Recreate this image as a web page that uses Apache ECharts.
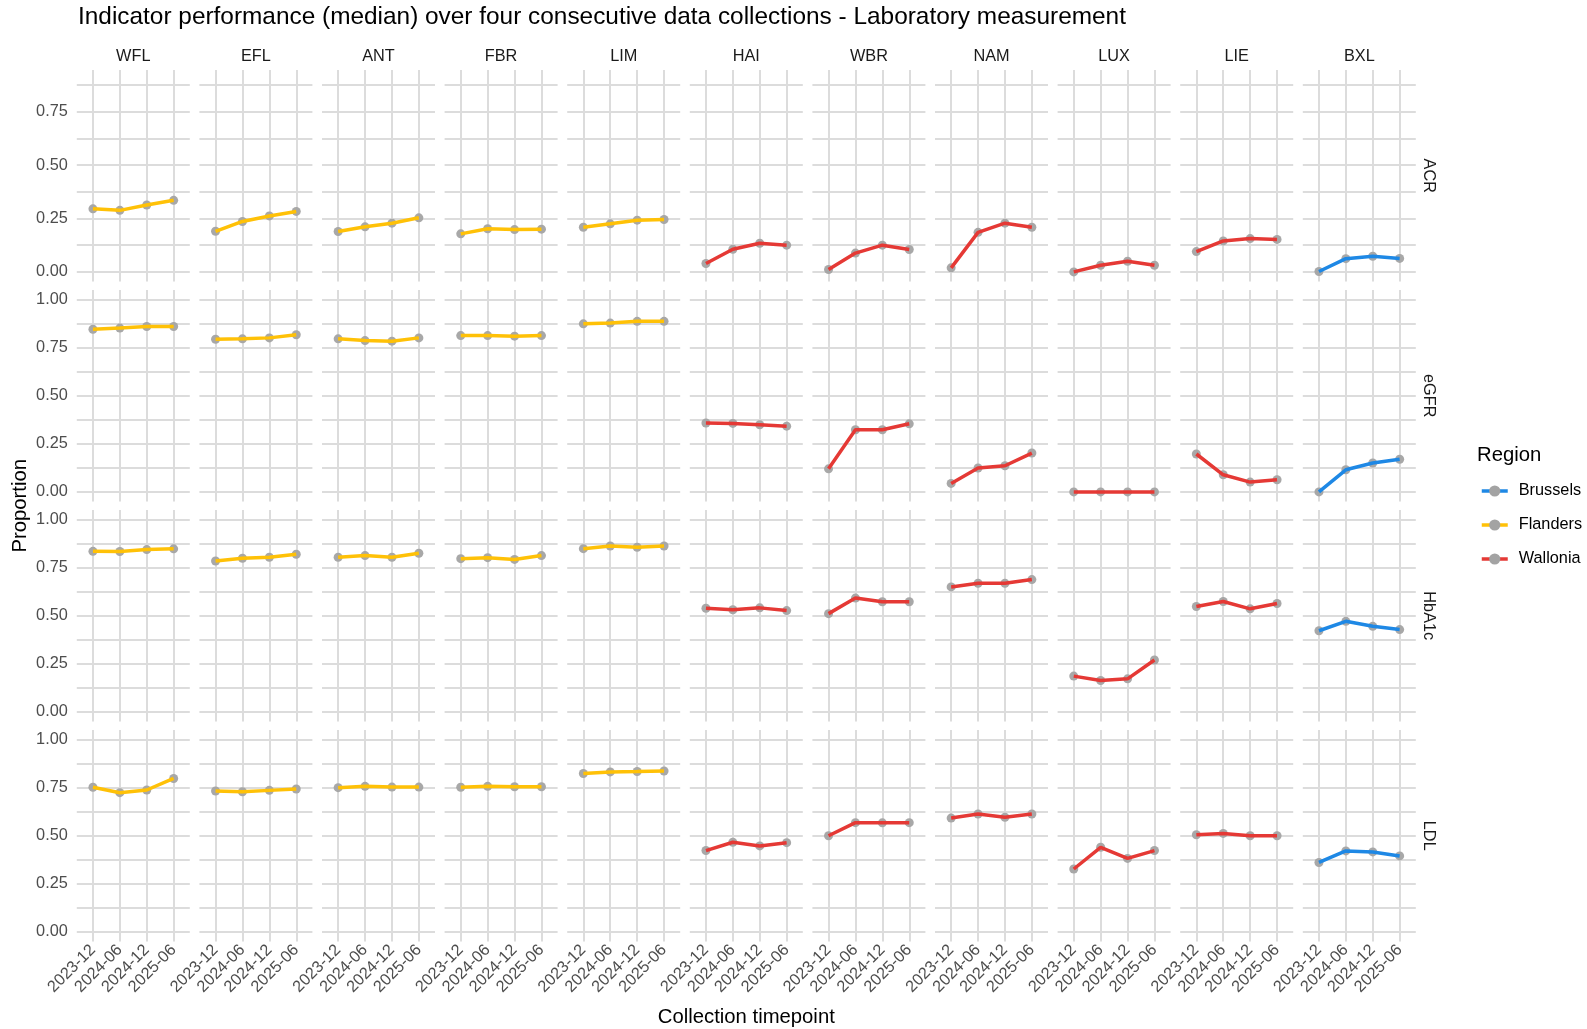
<!DOCTYPE html>
<html>
<head>
<meta charset="utf-8">
<script src="https://cdn.jsdelivr.net/npm/echarts@6/dist/echarts.min.js"></script>
<style>
  html, body { margin: 0; padding: 0; background: #fff; }
  #chart { width: 1587px; height: 1029px; }
</style>
</head>
<body>
<div id="chart"></div>
<script>
// Collection timepoints (x categories)
const timepoints = ['2023-12', '2024-06', '2024-12', '2025-06'];
// Areas (facet columns) and the region each one belongs to
const areas = ['WFL', 'EFL', 'ANT', 'FBR', 'LIM', 'HAI', 'WBR', 'NAM', 'LUX', 'LIE', 'BXL'];
const areaRegion = ['Flanders', 'Flanders', 'Flanders', 'Flanders', 'Flanders',
  'Wallonia', 'Wallonia', 'Wallonia', 'Wallonia', 'Wallonia', 'Brussels'];
// Indicators (facet rows)
const indicators = ['ACR', 'eGFR', 'HbA1c', 'LDL'];
const regions = ['Brussels', 'Flanders', 'Wallonia'];

// Median proportion per area, one row per area, one value per timepoint
const acr = [
  [0.295, 0.288, 0.313, 0.335],
  [0.190, 0.236, 0.262, 0.283],
  [0.189, 0.211, 0.228, 0.253],
  [0.178, 0.202, 0.198, 0.200],
  [0.209, 0.225, 0.242, 0.245],
  [0.039, 0.106, 0.134, 0.125],
  [0.011, 0.088, 0.125, 0.105],
  [0.019, 0.185, 0.228, 0.209],
  [0.000, 0.031, 0.050, 0.031],
  [0.095, 0.145, 0.156, 0.152],
  [0.002, 0.062, 0.073, 0.063]
];
const egfr = [
  [0.846, 0.852, 0.860, 0.860],
  [0.794, 0.796, 0.801, 0.817],
  [0.796, 0.787, 0.784, 0.801],
  [0.813, 0.813, 0.810, 0.813],
  [0.874, 0.878, 0.887, 0.887],
  [0.358, 0.356, 0.349, 0.342],
  [0.120, 0.323, 0.323, 0.354],
  [0.044, 0.124, 0.136, 0.202],
  [0.000, 0.000, 0.000, 0.000],
  [0.197, 0.089, 0.051, 0.063],
  [0.000, 0.115, 0.150, 0.170]
];
const hba1c = [
  [0.835, 0.834, 0.844, 0.848],
  [0.785, 0.799, 0.804, 0.820],
  [0.804, 0.813, 0.804, 0.825],
  [0.797, 0.802, 0.793, 0.813],
  [0.849, 0.863, 0.856, 0.863],
  [0.539, 0.531, 0.541, 0.527],
  [0.511, 0.592, 0.573, 0.573],
  [0.650, 0.669, 0.669, 0.688],
  [0.186, 0.163, 0.172, 0.270],
  [0.548, 0.574, 0.536, 0.564],
  [0.422, 0.471, 0.445, 0.428]
];
const ldl = [
  [0.752, 0.724, 0.738, 0.798],
  [0.733, 0.729, 0.736, 0.743],
  [0.750, 0.757, 0.753, 0.753],
  [0.752, 0.757, 0.755, 0.755],
  [0.824, 0.832, 0.834, 0.837],
  [0.423, 0.466, 0.447, 0.464],
  [0.500, 0.568, 0.567, 0.568],
  [0.592, 0.613, 0.596, 0.613],
  [0.327, 0.440, 0.382, 0.423],
  [0.505, 0.512, 0.500, 0.500],
  [0.361, 0.421, 0.416, 0.395]
];
const valuesByIndicator = [acr, egfr, hba1c, ldl];

// Tick positions on the y scale
const yLabelTicks = [0, 0.25, 0.5, 0.75, 1];
const yGridTicks = [0, 0.125, 0.25, 0.375, 0.5, 0.625, 0.75, 0.875, 1];

// ---- styling / layout ----
const FONT = 'Liberation Sans, Arial, Helvetica, sans-serif';
const SMALL = 16.3, MEDIUM = 20.3, LARGE = 24.4;
const regionColor = { Brussels: '#1E88E5', Flanders: '#FFC107', Wallonia: '#E53935' };
const pointColor = '#a3a3a3';
const gridLineStyle = { color: '#dcdcdc', width: 2 };
const yLimits = [[-0.045, 0.945], [-0.05, 1.05], [-0.05, 1.05], [-0.05, 1.05]];

const panelLeft0 = 76.8, panelStepX = 122.6, panelW = 113;
const panelTop0 = 70, panelStepY = 220, panelH = 211.5;

const grids = [], xAxes = [], yAxes = [], series = [], graphics = [];

indicators.forEach((ind, r) => {
  areas.forEach((area, c) => {
    const idx = r * areas.length + c;
    const left = panelLeft0 + c * panelStepX;
    const top = panelTop0 + r * panelStepY;
    grids.push({ left: left, top: top, width: panelW, height: panelH, containLabel: false });

    xAxes.push({
      gridIndex: idx, type: 'value', min: 0.4, max: 4.6,
      axisLine: { show: false },
      axisTick: { show: false, customValues: [1, 2, 3, 4] },
      splitLine: { show: true, lineStyle: gridLineStyle },
      axisLabel: {
        show: r === indicators.length - 1,
        customValues: [1, 2, 3, 4],
        rotate: 45, margin: 6,
        fontFamily: FONT, fontSize: SMALL, color: '#4d4d4d',
        formatter: v => timepoints[Math.round(v) - 1]
      }
    });

    yAxes.push({
      gridIndex: idx, type: 'value', min: yLimits[r][0], max: yLimits[r][1],
      axisLine: { show: false },
      axisTick: { show: false, customValues: yGridTicks },
      splitLine: { show: true, lineStyle: gridLineStyle },
      axisLabel: {
        show: c === 0,
        customValues: yLabelTicks,
        margin: 9,
        fontFamily: FONT, fontSize: SMALL, color: '#4d4d4d',
        formatter: v => v.toFixed(2)
      }
    });

    const vals = valuesByIndicator[r][c];
    const pts = vals.map((v, i) => [i + 1, v]);
    const region = areaRegion[c];

    // grey points sit underneath the coloured line
    series.push({
      type: 'scatter', xAxisIndex: idx, yAxisIndex: idx,
      data: pts, symbolSize: 9, z: 2, silent: true,
      itemStyle: { color: pointColor, opacity: 0.95 }
    });
    series.push({
      type: 'line', name: region, xAxisIndex: idx, yAxisIndex: idx,
      data: pts, showSymbol: false, symbol: 'circle', symbolSize: 9, z: 3, silent: true,
      itemStyle: { color: pointColor },
      lineStyle: { color: regionColor[region], width: 3.5 }
    });

    // column strip labels
    if (r === 0) {
      graphics.push({
        type: 'text', x: left + panelW / 2, y: 57,
        style: { text: area, font: SMALL + 'px ' + FONT, fill: '#1a1a1a', align: 'center', verticalAlign: 'middle',
                 textAlign: 'center', textVerticalAlign: 'middle' }
      });
    }
    // row strip labels
    if (c === areas.length - 1) {
      graphics.push({
        type: 'text', x: left + panelW + 13, y: top + panelH / 2, rotation: -Math.PI / 2,
        style: { text: ind, font: SMALL + 'px ' + FONT, fill: '#1a1a1a', align: 'center', verticalAlign: 'middle',
                 textAlign: 'center', textVerticalAlign: 'middle' }
      });
    }
  });
});

const plotLeft = panelLeft0, plotRight = panelLeft0 + (areas.length - 1) * panelStepX + panelW;
const plotTop = panelTop0, plotBottom = panelTop0 + (indicators.length - 1) * panelStepY + panelH;

// axis titles
graphics.push({
  type: 'text', x: (plotLeft + plotRight) / 2, y: 1017,
  style: { text: 'Collection timepoint', font: MEDIUM + 'px ' + FONT, fill: '#000', align: 'center', verticalAlign: 'middle',
           textAlign: 'center', textVerticalAlign: 'middle' }
});
graphics.push({
  type: 'text', x: 20, y: (plotTop + plotBottom) / 2, rotation: Math.PI / 2,
  style: { text: 'Proportion', font: MEDIUM + 'px ' + FONT, fill: '#000', align: 'center', verticalAlign: 'middle',
           textAlign: 'center', textVerticalAlign: 'middle' }
});
// legend title
graphics.push({
  type: 'text', x: 1477, y: 455,
  style: { text: 'Region', font: MEDIUM + 'px ' + FONT, fill: '#000', align: 'left', verticalAlign: 'middle',
           textAlign: 'left', textVerticalAlign: 'middle' }
});

const option = {
  animation: false,
  backgroundColor: '#ffffff',
  title: {
    text: 'Indicator performance (median) over four consecutive data collections - Laboratory measurement',
    left: 73, top: 0,
    textStyle: { fontFamily: FONT, fontSize: LARGE, fontWeight: 'normal', color: '#000' }
  },
  legend: {
    data: regions,
    orient: 'vertical',
    left: 1475, top: 478,
    itemWidth: 26, itemHeight: 14, itemGap: 18,
    selectedMode: false,
    lineStyle: { width: 3.5 },
    textStyle: { fontFamily: FONT, fontSize: SMALL, color: '#000', padding: [0, 0, 0, 6] }
  },
  grid: grids,
  xAxis: xAxes,
  yAxis: yAxes,
  series: series,
  graphic: graphics
};

const chart = echarts.init(document.getElementById('chart'), null, { renderer: 'canvas' });
chart.setOption(option);
</script>
</body>
</html>
